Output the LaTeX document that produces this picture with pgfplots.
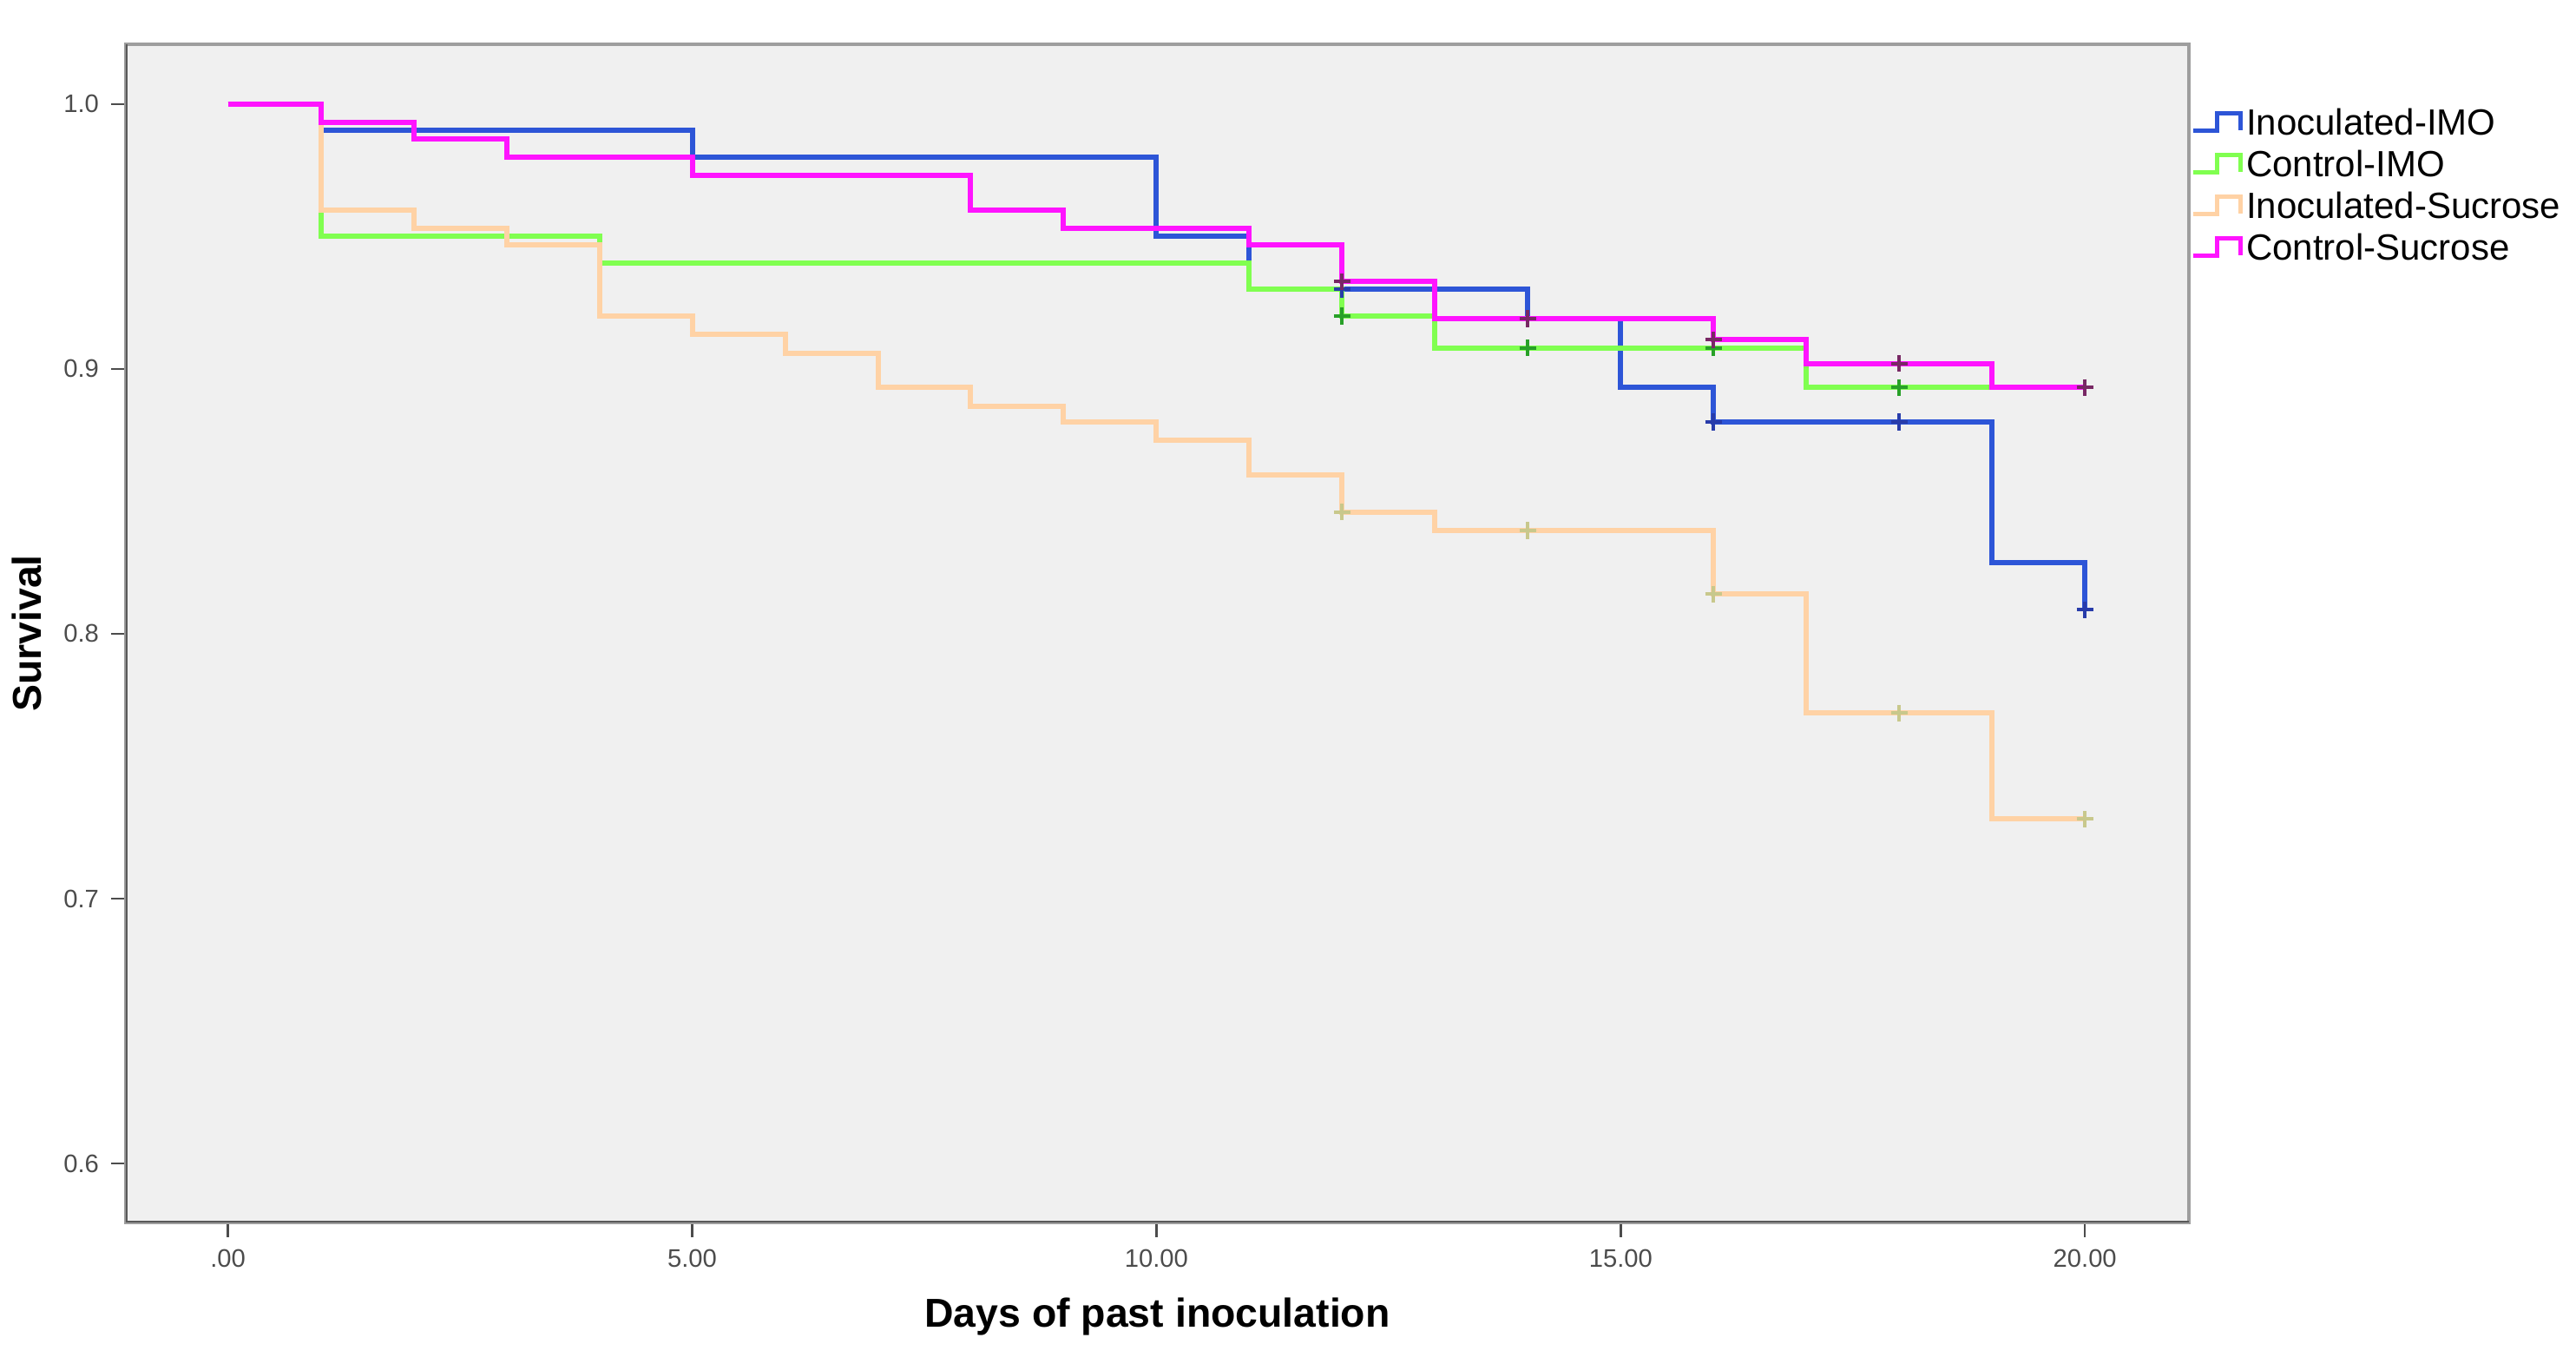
\documentclass[border=0pt]{standalone}
\usepackage{fontspec}
\setmainfont{Liberation Sans}
\usepackage{pgfplots}
\pgfplotsset{compat=1.18}

\definecolor{bgfill}{HTML}{F0F0F0}
\definecolor{cblue}{RGB}{45,85,215}
\definecolor{cgreen}{RGB}{128,255,80}
\definecolor{corange}{RGB}{255,210,165}
\definecolor{cmagenta}{RGB}{255,20,255}
\definecolor{mblue}{RGB}{40,60,170}
\definecolor{mgreen}{RGB}{40,160,40}
\definecolor{morange}{RGB}{200,200,140}
\definecolor{mmagenta}{RGB}{120,40,100}

\begin{document}
\begin{tikzpicture}
\begin{axis}[
  at={(0,0)}, anchor=south west,
  scale only axis, width=594.25pt, height=339.25pt,
  xmin=-1.10, xmax=21.12, ymin=0.5777, ymax=1.0226,
  axis background/.style={fill=bgfill},
  axis line style={draw=black!38, line width=1pt},
  xtick={0,5,10,15,20}, xticklabels={.00,5.00,10.00,15.00,20.00},
  ytick={0.6,0.7,0.8,0.9,1.0}, yticklabels={0.6,0.7,0.8,0.9,1.0},
  tick pos=left, tick align=outside, major tick length=4.25pt,
  tick style={draw=black!70, line width=0.6pt},
  ticklabel style={font=\fontsize{7.3}{8}\selectfont, text=black!70},
  xlabel={Days of past inoculation}, ylabel={Survival},
  label style={font=\fontsize{11.6}{13}\selectfont\bfseries},
  xlabel style={at={(axis description cs:0.5,-0.0803)}, anchor=center},
  ylabel style={at={(axis description cs:-0.048,0.5)}, anchor=center},
  legend style={at={(axis description cs:1,1)}, anchor=north west,
    xshift=0.3pt, yshift=-17.35pt, draw=none, fill=none,
    font=\fontsize{10.5}{12}\selectfont, row sep=2.4pt, inner sep=0pt,
    nodes={inner sep=1pt, text height=7.6pt, text depth=0pt},
    cells={anchor=west}},
  legend image code/.code={\draw[#1, line width=1.3pt]
    (0pt,-2.5pt) -- (6.9pt,-2.5pt) -- (6.9pt,2.5pt) -- (13.75pt,2.5pt) -- (13.75pt,-2.5pt);},
  every axis plot/.append style={line width=1.5pt},
]

% Inoculated-IMO
\addplot[cblue, const plot] coordinates {
  (0,1.000) (1,0.990) (5,0.980) (10,0.950) (11,0.930) (14,0.919)
  (15,0.893) (16,0.880) (19,0.827) (20,0.809)
};
\addlegendentry{Inoculated-IMO}

% Control-IMO
\addplot[cgreen, const plot] coordinates {
  (0,1.000) (1,0.950) (4,0.940) (11,0.930) (12,0.920) (13,0.908)
  (17,0.893) (20,0.893)
};
\addlegendentry{Control-IMO}

% Inoculated-Sucrose
\addplot[corange, const plot] coordinates {
  (0,1.000) (1,0.960) (2,0.953) (3,0.947) (4,0.920) (5,0.913)
  (6,0.906) (7,0.893) (8,0.886) (9,0.880) (10,0.873) (11,0.860)
  (12,0.846) (13,0.839) (16,0.815) (17,0.770) (19,0.730) (20,0.730)
};
\addlegendentry{Inoculated-Sucrose}

% Control-Sucrose
\addplot[cmagenta, const plot] coordinates {
  (0,1.000) (1,0.993) (2,0.987) (3,0.980) (5,0.973) (8,0.960)
  (9,0.953) (11,0.947) (12,0.933) (13,0.919) (16,0.911) (17,0.902)
  (19,0.893) (20,0.893)
};
\addlegendentry{Control-Sucrose}

% censored observations
\addplot[only marks, mark=+, mark size=2.4pt, line width=1pt, mgreen, forget plot]
  coordinates {(12,0.920) (14,0.908) (16,0.908) (18,0.893) (20,0.893)};
\addplot[only marks, mark=+, mark size=2.4pt, line width=1pt, morange, forget plot]
  coordinates {(12,0.846) (14,0.839) (16,0.815) (18,0.770) (20,0.730)};
\addplot[only marks, mark=+, mark size=2.4pt, line width=1pt, mblue, forget plot]
  coordinates {(12,0.930) (16,0.880) (18,0.880) (20,0.809)};
\addplot[only marks, mark=+, mark size=2.4pt, line width=1pt, mmagenta, forget plot]
  coordinates {(12,0.933) (14,0.919) (16,0.911) (18,0.902) (20,0.893)};

\draw[black!65, line width=1.1pt] (rel axis cs:0,1) -- (rel axis cs:0,0) -- (rel axis cs:1,0);
\end{axis}
\pgfresetboundingbox
\useasboundingbox (-36.25pt,-40.75pt) rectangle (705.75pt,352pt);
\end{tikzpicture}
\end{document}
